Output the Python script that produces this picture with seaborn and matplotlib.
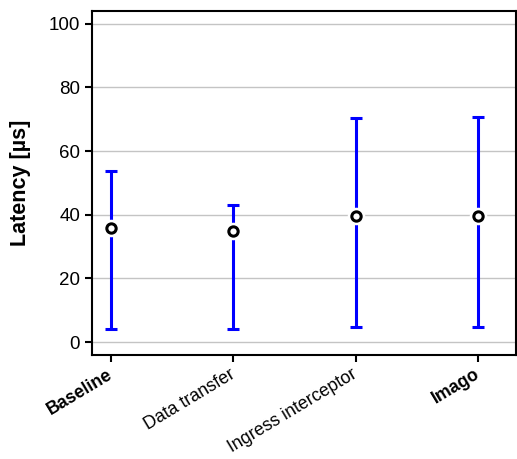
import matplotlib
matplotlib.use("Agg")
import matplotlib.pyplot as plt
import matplotlib.transforms as mtransforms
import seaborn as sns
import numpy as np
import pandas as pd

configs = ["Baseline", "Data transfer", "Ingress interceptor", "Imago"]
mean_us = [35.9, 34.9, 39.6, 39.6]
low_us = [4.1, 4.1, 4.7, 4.7]
high_us = [53.8, 43.0, 70.4, 70.6]

sns.set_style("white")
plt.rcParams["font.family"] = ["Liberation Sans", "DejaVu Sans"]
plt.rcParams["text.color"] = "black"
plt.rcParams["xtick.color"] = "black"
plt.rcParams["ytick.color"] = "black"
plt.rcParams["axes.labelcolor"] = "black"

df = pd.DataFrame({"config": configs, "mean": mean_us, "low": low_us, "high": high_us})

fig, ax = plt.subplots(figsize=(5.17, 4.59), dpi=100)

x = np.arange(len(configs))
yerr = np.array([df["mean"] - df["low"], df["high"] - df["mean"]])
ax.errorbar(x, df["mean"], yerr=yerr, fmt="none", ecolor="#0000ff",
            elinewidth=2.2, capsize=4.6, capthick=2.2, zorder=2)

# white halo so the whisker stops short of the marker
ax.scatter(x, df["mean"], s=160, color="white", zorder=3, linewidths=0)
sns.scatterplot(data=df, x="config", y="mean", ax=ax, s=45, marker="o",
                facecolor="white", edgecolor="black", linewidth=2.2, zorder=4)

ax.set_ylim(-4, 104)
ax.set_xlim(-0.155, 3.31)
ax.set_yticks([0, 20, 40, 60, 80, 100])
ax.yaxis.grid(True, color="#c4c4c4", linewidth=1)
ax.set_axisbelow(True)

for s in ax.spines.values():
    s.set_color("black")
    s.set_linewidth(1.5)

ax.tick_params(axis="both", direction="out", length=5, width=1.5, color="black",
               labelsize=13.5, bottom=True, left=True)
ax.tick_params(axis="x", pad=3)
ax.set_xticks(x)
ax.set_xticklabels(configs, rotation=31, ha="right", rotation_mode="anchor", fontsize=12.8)
shift = mtransforms.ScaledTranslation(-4 / 100, 0, fig.dpi_scale_trans)
for lbl in ax.get_xticklabels():
    lbl.set_transform(lbl.get_transform() + shift)
    if lbl.get_text() in ("Baseline", "Imago"):
        lbl.set_fontweight("bold")

ax.set_xlabel("")
ax.set_ylabel("Latency [µs]", fontsize=15.5, fontweight="bold", labelpad=13)

fig.subplots_adjust(left=0.178, right=0.998, top=0.976, bottom=0.227)
fig.savefig("out.png", dpi=100)
